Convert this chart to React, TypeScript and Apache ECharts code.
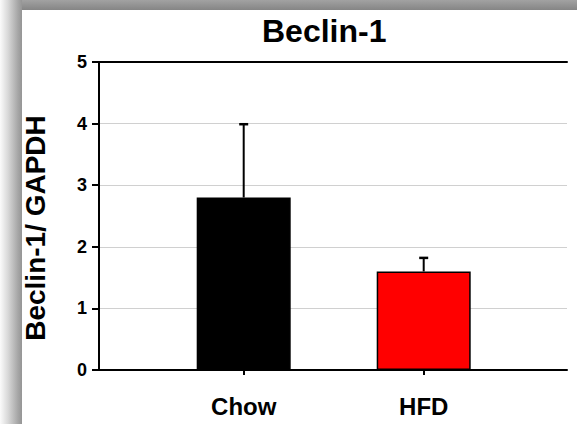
import React, { useEffect, useRef } from "react";
import * as echarts from "echarts";

const titleText = "Beclin-1";
const yAxisName = "Beclin-1/ GAPDH";
const categories = ["Chow", "HFD"];
const means = [2.8, 1.6];
const errors = [1.19, 0.22];
const barColors = ["#000000", "#ff0000"];
const yMin = 0;
const yMax = 5;
const yInterval = 1;

const FONT = "'Liberation Sans', Arial, sans-serif";

export default function App() {
  const ref = useRef<HTMLDivElement>(null);

  useEffect(() => {
    if (!ref.current) return;
    const chart = echarts.init(ref.current, null, { renderer: "svg" });

    const barData = means.map((v, i) => ({
      value: v,
      itemStyle: { color: barColors[i], borderColor: "#000", borderWidth: 1.5 },
    }));
    const errData = means.map((v, i) => [i, v, v + errors[i]]);

    const plot = { left: 99, top: 62, width: 468, height: 308 };
    const catWidth = 180;
    const firstCenter = 243.7;

    chart.setOption({
      animation: false,
      title: {
        text: titleText,
        left: 262,
        top: 15,
        padding: 0,
        textStyle: { fontFamily: FONT, fontWeight: "bold", fontSize: 32, color: "#000" },
      },
      grid: [
        { ...plot, containLabel: false },
        {
          left: firstCenter - catWidth / 2,
          top: plot.top,
          width: catWidth * categories.length,
          height: plot.height,
          containLabel: false,
        },
      ],
      xAxis: [
        {
          gridIndex: 0,
          type: "value",
          min: 0,
          max: 1,
          position: "bottom",
          axisLine: { show: true, onZero: false, lineStyle: { color: "#000", width: 2 } },
          axisTick: { show: false },
          axisLabel: { show: false },
          splitLine: { show: false },
        },
        {
          gridIndex: 1,
          type: "category",
          data: categories,
          position: "bottom",
          axisLine: { show: false },
          axisTick: { show: true, alignWithLabel: true, length: 5, lineStyle: { color: "#000", width: 2 } },
          axisLabel: {
            margin: 24,
            color: "#000",
            fontFamily: FONT,
            fontWeight: "bold",
            fontSize: 24,
          },
        },
        {
          gridIndex: 0,
          type: "value",
          min: 0,
          max: 1,
          position: "top",
          axisLine: { show: true, onZero: false, lineStyle: { color: "#000", width: 2 } },
          axisTick: { show: false },
          axisLabel: { show: false },
          splitLine: { show: false },
        },
      ],
      yAxis: [
        {
          gridIndex: 0,
          type: "value",
          min: yMin,
          max: yMax,
          interval: yInterval,
          position: "left",
          name: yAxisName,
          nameLocation: "middle",
          nameGap: 50,
          nameTextStyle: {
            fontFamily: FONT,
            fontWeight: "bold",
            fontSize: 28,
            color: "#000",
            padding: [0, 24, 0, 0],
          },
          axisLine: { show: true, onZero: false, lineStyle: { color: "#000", width: 2 } },
          axisTick: { show: true, inside: false, length: 7, lineStyle: { color: "#000", width: 2 } },
          axisLabel: { margin: 12, color: "#000", fontFamily: FONT, fontWeight: "bold", fontSize: 18 },
          splitLine: { show: true, lineStyle: { color: "#d0d0d0", width: 1 } },
        },
        {
          gridIndex: 1,
          type: "value",
          min: yMin,
          max: yMax,
          interval: yInterval,
          show: false,
        },
        {
          gridIndex: 0,
          type: "value",
          min: yMin,
          max: yMax,
          position: "right",
          axisLine: {
            show: true,
            onZero: false,
            lineStyle: {
              color: "#000",
              width: 3,
              shadowColor: "rgba(0,0,0,0.35)",
              shadowOffsetX: 1.5,
              shadowOffsetY: 1,
              shadowBlur: 1,
            },
          },
          axisTick: { show: false },
          axisLabel: { show: false },
          splitLine: { show: false },
        },
      ],
      series: [
        {
          type: "bar",
          xAxisIndex: 1,
          yAxisIndex: 1,
          data: barData,
          barWidth: 94,
          z: 3,
        },
        {
          type: "custom",
          xAxisIndex: 1,
          yAxisIndex: 1,
          data: errData,
          z: 4,
          renderItem: (params: any, api: any) => {
            const base = api.coord([api.value(0), api.value(1)]);
            const hi = api.coord([api.value(0), api.value(2)]);
            return {
              type: "group",
              children: [
                {
                  type: "line",
                  shape: { x1: base[0], y1: base[1], x2: hi[0], y2: hi[1] },
                  style: { stroke: "#000", lineWidth: 2 },
                },
                {
                  type: "line",
                  shape: { x1: hi[0] - 4.5, y1: hi[1], x2: hi[0] + 4.5, y2: hi[1] },
                  style: { stroke: "#000", lineWidth: 2.5 },
                },
              ],
            };
          },
        },
      ],
    });

    return () => chart.dispose();
  }, []);

  return (
    <div style={{ position: "absolute", left: 0, top: 0, width: 577, height: 424, background: "#fff", overflow: "hidden" }}>
      <div
        style={{
          position: "absolute",
          left: 0,
          top: 0,
          width: 577,
          height: 10,
          background: "linear-gradient(to bottom, #a2a2a2, #858585)",
        }}
      />
      <div
        style={{
          position: "absolute",
          left: 0,
          top: 0,
          width: 22,
          height: 424,
          background: "linear-gradient(to right, #fbfbfb 0px, #d8d8d8 8px, #a6a6a6 18px, #959595 22px)",
        }}
      />
      <div ref={ref} style={{ position: "absolute", left: 0, top: 0, width: 577, height: 424 }} />
    </div>
  );
}
